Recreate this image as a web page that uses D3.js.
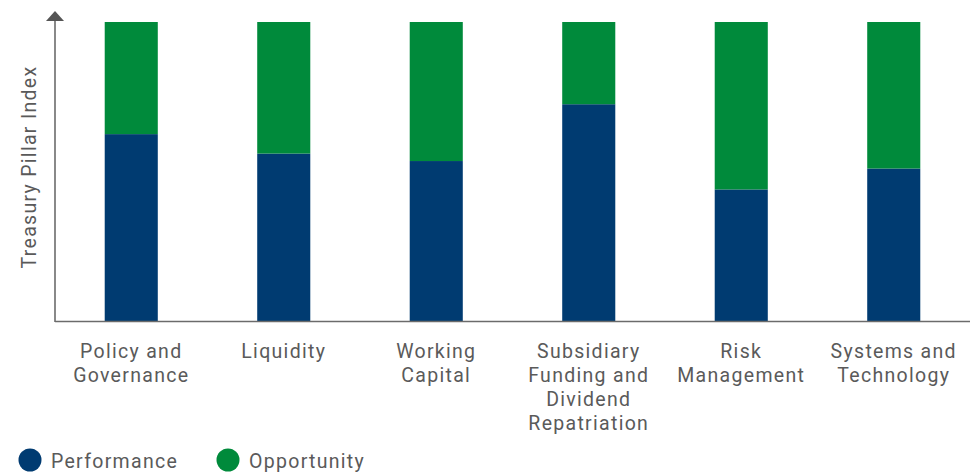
<!DOCTYPE html>
<html>
<head>
<meta charset="utf-8">
<script src="https://cdn.jsdelivr.net/npm/d3@7"></script>
<style>
  html, body { margin: 0; padding: 0; background: #fff; }
  svg { display: block; }
  text { font-family: Roboto, "Open Sans", sans-serif; fill: #5a5a5a; letter-spacing: 1.3px; }
</style>
</head>
<body>
<svg id="chart" width="977" height="473"></svg>
<script>
// Treasury pillar scores: performance achieved vs. remaining opportunity (index out of 100)
const categories = [
  ["Policy and", "Governance"],
  ["Liquidity"],
  ["Working", "Capital"],
  ["Subsidiary", "Funding and", "Dividend", "Repatriation"],
  ["Risk", "Management"],
  ["Systems and", "Technology"]
];
const performance = [62.5, 56, 53.5, 72.5, 44, 51];
const opportunity = [37.5, 44, 46.5, 27.5, 56, 49];
const seriesNames = ["Performance", "Opportunity"];
const colors = ["#003b71", "#008a3b"];

const svg = d3.select("#chart");
const margin = { left: 55, right: 7, top: 22, bottom: 152 };
const W = 977, H = 473;
const x0 = margin.left, x1 = W - margin.right;
const yBase = H - margin.bottom, yTop = margin.top;

const keys = categories.map((c, i) => i);
const x = d3.scaleBand().domain(keys).range([x0, x1]).paddingInner(0.652).paddingOuter(0.326);
const y = d3.scaleLinear().domain([0, 100]).range([yBase, yTop]);

const rows = keys.map(i => ({ key: i, Performance: performance[i], Opportunity: opportunity[i] }));
const stacked = d3.stack().keys(seriesNames)(rows);

svg.append("g").selectAll("g").data(stacked).join("g")
  .attr("fill", (d, i) => colors[i])
  .selectAll("rect").data(d => d).join("rect")
  .attr("x", d => x(d.data.key))
  .attr("width", x.bandwidth())
  .attr("y", d => y(d[1]))
  .attr("height", d => y(d[0]) - y(d[1]));

// Axes: plain x baseline, y axis with an arrowhead and no ticks
const axisColor = "#6b6b6b";
svg.append("line").attr("x1", x0).attr("x2", x1).attr("y1", yBase + 0.5).attr("y2", yBase + 0.5)
  .attr("stroke", axisColor).attr("stroke-width", 1.6);
svg.append("line").attr("x1", x0).attr("x2", x0).attr("y1", yBase + 1).attr("y2", 20)
  .attr("stroke", axisColor).attr("stroke-width", 1.6);
svg.append("path").attr("d", `M${x0},11 L${x0 + 9},21 L${x0 - 9},21 Z`).attr("fill", "#555");

// Category labels
const labels = svg.append("g").selectAll("text").data(categories).join("text")
  .attr("text-anchor", "middle")
  .attr("font-size", 19.5)
  .attr("x", (d, i) => x(i) + x.bandwidth() / 2)
  .attr("y", 358);
labels.selectAll("tspan").data(d => d).join("tspan")
  .attr("x", function () { return d3.select(this.parentNode).attr("x"); })
  .attr("dy", (d, j) => j === 0 ? 0 : 24)
  .text(d => d);

// Y axis title
svg.append("text")
  .attr("transform", `translate(36,${(yTop + yBase) / 2 - 4.5}) rotate(-90)`)
  .attr("text-anchor", "middle")
  .attr("font-size", 19.5)
  .text("Treasury Pillar Index");

// Legend
const legendX = [30, 228];
const lg = svg.append("g").selectAll("g").data(seriesNames).join("g")
  .attr("transform", (d, i) => `translate(${legendX[i]},460)`);
lg.append("circle").attr("r", 11.5).attr("fill", (d, i) => colors[i]);
lg.append("text").attr("x", 21).attr("y", 8).attr("font-size", 19.5).text(d => d);
</script>
</body>
</html>
